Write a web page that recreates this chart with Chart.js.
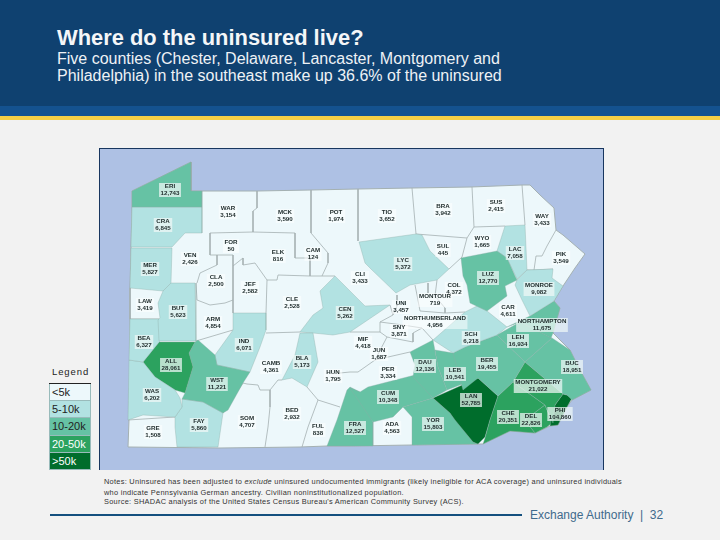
<!DOCTYPE html>
<html><head><meta charset="utf-8">
<script src="https://cdn.jsdelivr.net/npm/chart.js@4"></script>
<style>
html,body{margin:0;padding:0;width:720px;height:540px;overflow:hidden;background:#f2f2f2;font-family:"Liberation Sans",Arial,sans-serif}
.abs{position:absolute;white-space:nowrap}
#legend{position:absolute;left:49px;top:383px;width:42px;border-top:1px solid #222}
#legend div{height:17.2px;line-height:17.2px;font-size:11px;padding-left:2px;box-sizing:border-box;border-bottom:1px solid #9bb;border-left:1px solid #9bb;border-right:1px solid #9bb}
.note{font-size:7.4px;color:#333;letter-spacing:.28px}
</style></head><body>
<div class="abs" style="left:0;top:0;width:720px;height:106px;background:#0f4170"></div>
<div class="abs" style="left:0;top:106px;width:720px;height:10px;background:#14528f"></div>
<div class="abs" style="left:0;top:116px;width:720px;height:4px;background:#f5ce45"></div>
<div class="abs" style="left:57px;top:25px;font-size:21.9px;font-weight:bold;color:#f4f6f8">Where do the uninsured live?</div>
<div class="abs" style="left:57px;top:50px;font-size:16px;color:#eef2f6">Five counties (Chester, Delaware, Lancaster, Montgomery and</div>
<div class="abs" style="left:57px;top:67px;font-size:16px;color:#eef2f6">Philadelphia) in the southeast make up 36.6% of the uninsured</div>
<div class="abs" style="left:99px;top:148px;width:505px;height:322px;background:#aec1e4;box-sizing:border-box;border:1px solid #18365f;border-bottom:0"></div>
<div class="abs" style="left:52px;top:366px;font-size:9.5px;letter-spacing:.9px;color:#222">Legend</div>
<div id="legend"></div>
<div class="abs note" style="left:104px;top:477px">Notes: Uninsured has been adjusted to <i>exclude</i> uninsured undocumented immigrants (likely ineligible for ACA coverage) and uninsured individuals</div>
<div class="abs note" style="left:104px;top:488px">who indicate Pennsylvania German ancestry. Civilian noninstitutionalized population.</div>
<div class="abs note" style="left:104px;top:497px">Source: SHADAC analysis of the United States Census Bureau's American Community Survey (ACS).</div>
<div class="abs" style="left:50px;top:514px;width:472px;height:2px;background:#14507f"></div>
<div class="abs" style="left:530px;top:508px;font-size:12px;color:#3f6a8c">Exchange Authority &nbsp;|&nbsp; 32</div>
<canvas id="c" width="720" height="540" style="position:absolute;left:0;top:0"></canvas>
<script>
const bandNames=['<5k','5-10k','10-20k','20-50k','>50k'];
const bandLimits=[5000,10000,20000,50000,Infinity];
const bandColors=['#edf8fb','#b2e2e2','#66c2a4','#2ca25f','#006d2c'];
const bandText=['#222','#222','#222','#fff','#fff'];

const countyCodes=['ERI','CRA','WAR','MCK','POT','TIO','BRA','SUS','WAY','WYO','LAC','PIK','SUL','LYC','LUZ','MONROE','CAR','COL','MONTOUR','UNI','NORTHUMBERLAND','NORTHAMPTON','SNY','SCH','LEH','MIF','JUN','BER','DAU','PER','LEB','BUC','MONTGOMERY','LAN','CUM','CHE','DEL','PHI','YOR','ADA','FRA','FUL','BED','SOM','FAY','GRE','WAS','WST','ALL','BEA','IND','BUT','LAW','ARM','JEF','CLA','CLE','ELK','CAM','FOR','VEN','MER','CEN','CAMB','BLA','HUN','CLI'];
const countyValues=[12743,6845,3154,3590,1974,3652,3942,2415,3433,1665,7058,3549,445,5372,12770,9082,4611,4372,719,3457,4956,11675,3871,6218,16934,4418,1687,19455,12136,3334,10541,18951,21022,52785,10348,20351,22826,104860,15803,4563,12527,838,2932,4707,5860,1508,6202,11221,28061,6327,6071,5623,3419,4854,2582,2500,2528,816,124,50,2426,5827,5262,4361,5173,1795,3433];
const labelCentres=[[170,190],[163,225],[228,212],[285,216],[336,216],[387,216],[443,210],[496,206],[542,220],[482,242],[515,253],[561,258],[443,250],[403,264],[488,278],[539,289],[508,311],[454,289],[435,300],[401,307],[435,322],[542,325],[399,331],[471,338],[518,341],[363,343],[379,354],[487,364],[425,366],[388,373],[455,374],[572,367],[538,386],[471,400],[388,397],[508,417],[531,420],[560,414],[433,424],[392,428],[355,428],[318,430],[292,414],[247,422],[199,425],[153,432],[152,395],[217,384],[171,365],[144,342],[244,345],[178,312],[145,305],[213,323],[250,288],[216,281],[292,303],[278,256],[313,254],[231,246],[190,259],[150,269],[345,313],[271,367],[302,362],[333,376],[360,278]];

const stateOutline=[[132,207],[132,191],[191,162],[191,191],[202,191],[257,191],[311,190],[358,189],[412,188],[471,187],[522,185],[530,185],[540,195],[554,208],[556,230],[563,235],[585,254],[575,268],[563,286],[554,301],[560,308],[553,333],[570,350],[580,370],[591,390],[572,400],[567,407],[558,425],[550,426],[535,433],[510,431],[483,444],[478,444],[412,445],[350,446],[327,446],[300,447],[220,448],[128,447],[129,420],[130,320],[130,288],[131,247]];

const countyShapes={
ERI:[[132,191],[191,162],[191,191],[202,191],[202,207],[132,207]],
CRA:[[132,207],[202,207],[202,233],[185,233],[172,247],[131,247]],
MER:[[131,248],[172,248],[171,283],[163,291],[130,288]],
BUT:[[163,291],[171,283],[195,283],[196,341],[159,341],[158,320],[160,318],[158,303]],
BEA:[[130,319],[159,319],[160,341],[143,362],[129,360]],
WAS:[[129,360],[143,362],[155,377],[175,390],[180,398],[182,407],[175,417],[143,415],[128,420]],
ALL:[[159,342],[195,342],[189,353],[193,367],[185,393],[175,390],[155,377],[143,362]],
WST:[[195,342],[198,340],[215,355],[217,365],[250,372],[243,383],[228,410],[223,413],[203,402],[182,399],[185,393],[193,367],[189,353]],
FAY:[[182,399],[203,402],[223,413],[218,447],[177,447],[175,427],[175,417],[182,407]],
IND:[[233,313],[266,313],[266,330],[260,347],[250,372],[217,365],[215,355],[233,330]],
BLA:[[300,333],[313,333],[318,362],[307,387],[292,378],[282,380],[295,355]],
CEN:[[320,291],[335,276],[342,283],[350,291],[365,306],[390,305],[350,332],[333,335],[313,333],[300,332],[313,315],[323,308]],
LYC:[[359,242],[416,234],[422,235],[430,251],[449,269],[437,280],[410,285],[396,293],[372,270],[365,263]],
LUZ:[[461,258],[497,251],[507,258],[515,276],[517,280],[505,286],[507,296],[487,311],[470,303],[467,285],[463,276]],
LAC:[[505,226],[525,225],[527,270],[517,279],[507,258],[497,251]],
MONROE:[[517,280],[527,270],[553,269],[552,278],[563,286],[554,301],[530,316],[522,300],[515,285]],
NORTHAMPTON:[[507,327],[530,316],[554,301],[560,308],[553,333],[551,338],[520,322]],
LEH:[[497,335],[520,322],[552,338],[525,362]],
SCH:[[433,340],[465,312],[477,306],[487,311],[507,327],[497,335],[465,347],[453,353]],
BER:[[453,353],[465,347],[497,335],[525,362],[513,382],[498,396],[478,378],[463,390]],
LEB:[[435,350],[453,353],[478,378],[447,390],[438,367]],
DAU:[[410,352],[433,340],[438,367],[447,390],[433,398],[413,377],[415,365]],
BUC:[[552,338],[570,350],[580,370],[591,390],[572,400],[567,395],[563,394],[525,362]],
MONTGOMERY:[[513,382],[525,362],[563,394],[555,405],[553,423],[545,405]],
PHI:[[567,395],[572,398],[567,407],[558,425],[550,426],[552,415],[555,405],[563,394]],
DEL:[[525,420],[545,405],[552,423],[547,427],[535,433]],
CHE:[[485,438],[490,420],[498,396],[513,382],[545,405],[525,420],[535,433],[510,431],[483,444]],
LAN:[[433,398],[478,378],[498,396],[490,420],[485,437],[478,444],[473,442],[455,420],[450,413]],
CUM:[[350,388],[360,392],[368,387],[415,375],[433,398],[403,407],[393,417],[373,422]],
YOR:[[433,398],[450,413],[473,442],[478,444],[412,445],[412,417],[403,407]],
FRA:[[327,446],[337,420],[347,390],[350,387],[360,392],[373,422],[373,446]]
};

const whiteBoundaries=[
[[210,233],[210,255],[217,255],[217,265],[200,273],[197,283]],
[[217,255],[233,255],[233,313]],
[[196,283],[197,300],[210,305],[225,303],[233,300]],
[[233,266],[243,258],[243,265],[255,263],[267,280],[266,313]],
[[253,232],[295,233],[295,258],[310,258],[310,276],[278,275],[277,280],[267,280]],
[[311,233],[328,253],[328,263],[322,276],[310,276]],
[[322,276],[335,276]],
[[266,333],[300,332]],
[[243,383],[247,384],[258,385],[260,390],[270,390],[278,380],[282,380]],
[[270,390],[270,407],[268,427],[265,447]],
[[307,387],[318,400],[308,427],[302,447]],
[[318,400],[340,407]],
[[340,373],[350,372],[358,372],[375,360],[410,352]],
[[350,332],[380,332],[387,337],[375,360]],
[[380,332],[380,322],[403,325],[422,328],[413,333],[413,342],[387,337]],
[[415,285],[417,295],[420,311]],
[[428,283],[428,293]],
[[437,280],[435,296],[445,308],[445,313]],
[[397,295],[397,306],[393,315],[380,322]],
[[422,328],[433,340]],
[[420,311],[445,313],[465,312]],
[[390,305],[393,315]],
[[196,341],[233,330]],
[[257,191],[257,208],[253,211],[253,232]],
[[210,233],[253,232]],
[[311,190],[311,233]],
[[358,189],[358,241]],
[[412,188],[416,234]],
[[472,187],[474,227],[467,238],[462,257]],
[[522,185],[525,225]],
[[474,227],[505,226]],
[[416,234],[467,238]],
[[449,269],[462,257]],
[[527,270],[534,270],[536,256],[542,256],[547,246],[556,230]],
[[534,270],[553,269]],
[[130,288],[130,319],[159,319]],
[[128,420],[175,417]],
[[223,413],[243,383]]
];

const legendEl=document.getElementById('legend');
bandNames.forEach((n,i)=>{const d=document.createElement('div');d.textContent=n;d.style.background=bandColors[i];d.style.color=bandText[i];legendEl.appendChild(d);});

const bandOf=v=>bandLimits.findIndex(l=>v<l);
const pts=a=>a.map(([x,y])=>({x,y}));
const polygon=(shape,color,line,w)=>({data:pts(shape.concat([shape[0]])),showLine:true,fill:'shape',backgroundColor:color,borderColor:line,borderWidth:w,pointRadius:0,tension:0});

const datasets=[];
datasets.push(Object.assign(polygon(stateOutline,bandColors[0],'#a4b0b1',1),{order:100}));
whiteBoundaries.forEach(b=>datasets.push({data:pts(b),showLine:true,fill:false,borderColor:'#a4b0b1',borderWidth:.8,pointRadius:0,tension:0,order:90}));
Object.keys(countyShapes).forEach(code=>{
  const v=countyValues[countyCodes.indexOf(code)];
  const c=bandColors[bandOf(v)];
  datasets.push(Object.assign(polygon(countyShapes[code],c,'rgba(140,170,165,.6)',.6),{order:50}));
});

const countyLabels={id:'countyLabels',afterDatasetsDraw(chart){
  const {ctx,scales:{x,y}}=chart;
  ctx.save();ctx.font='bold 6.2px "Liberation Sans",Arial,sans-serif';ctx.textAlign='center';ctx.textBaseline='middle';
  countyCodes.forEach((code,i)=>{
    const cx=x.getPixelForValue(labelCentres[i][0]),cy=y.getPixelForValue(labelCentres[i][1]);
    const val=countyValues[i].toLocaleString('en-US');
    const w=Math.max(ctx.measureText(code).width,ctx.measureText(val).width)+3;
    const b=bandOf(countyValues[i]);
    ctx.fillStyle=b===0?'rgba(255,255,255,.5)':'rgba(240,248,246,.72)';
    ctx.fillRect(cx-w/2,cy-7,w,14);
    ctx.fillStyle='#1d2a2a';
    ctx.fillText(code,cx,cy-3.5);ctx.fillText(val,cx,cy+3.5);
  });
  ctx.restore();
}};

new Chart(document.getElementById('c'),{type:'scatter',data:{datasets},plugins:[countyLabels],options:{
  responsive:false,animation:false,layout:{padding:0},
  plugins:{legend:{display:false},tooltip:{enabled:false}},
  scales:{x:{type:'linear',min:0,max:720,display:false},y:{type:'linear',min:0,max:540,reverse:true,display:false}}
}});
</script>
</body></html>
